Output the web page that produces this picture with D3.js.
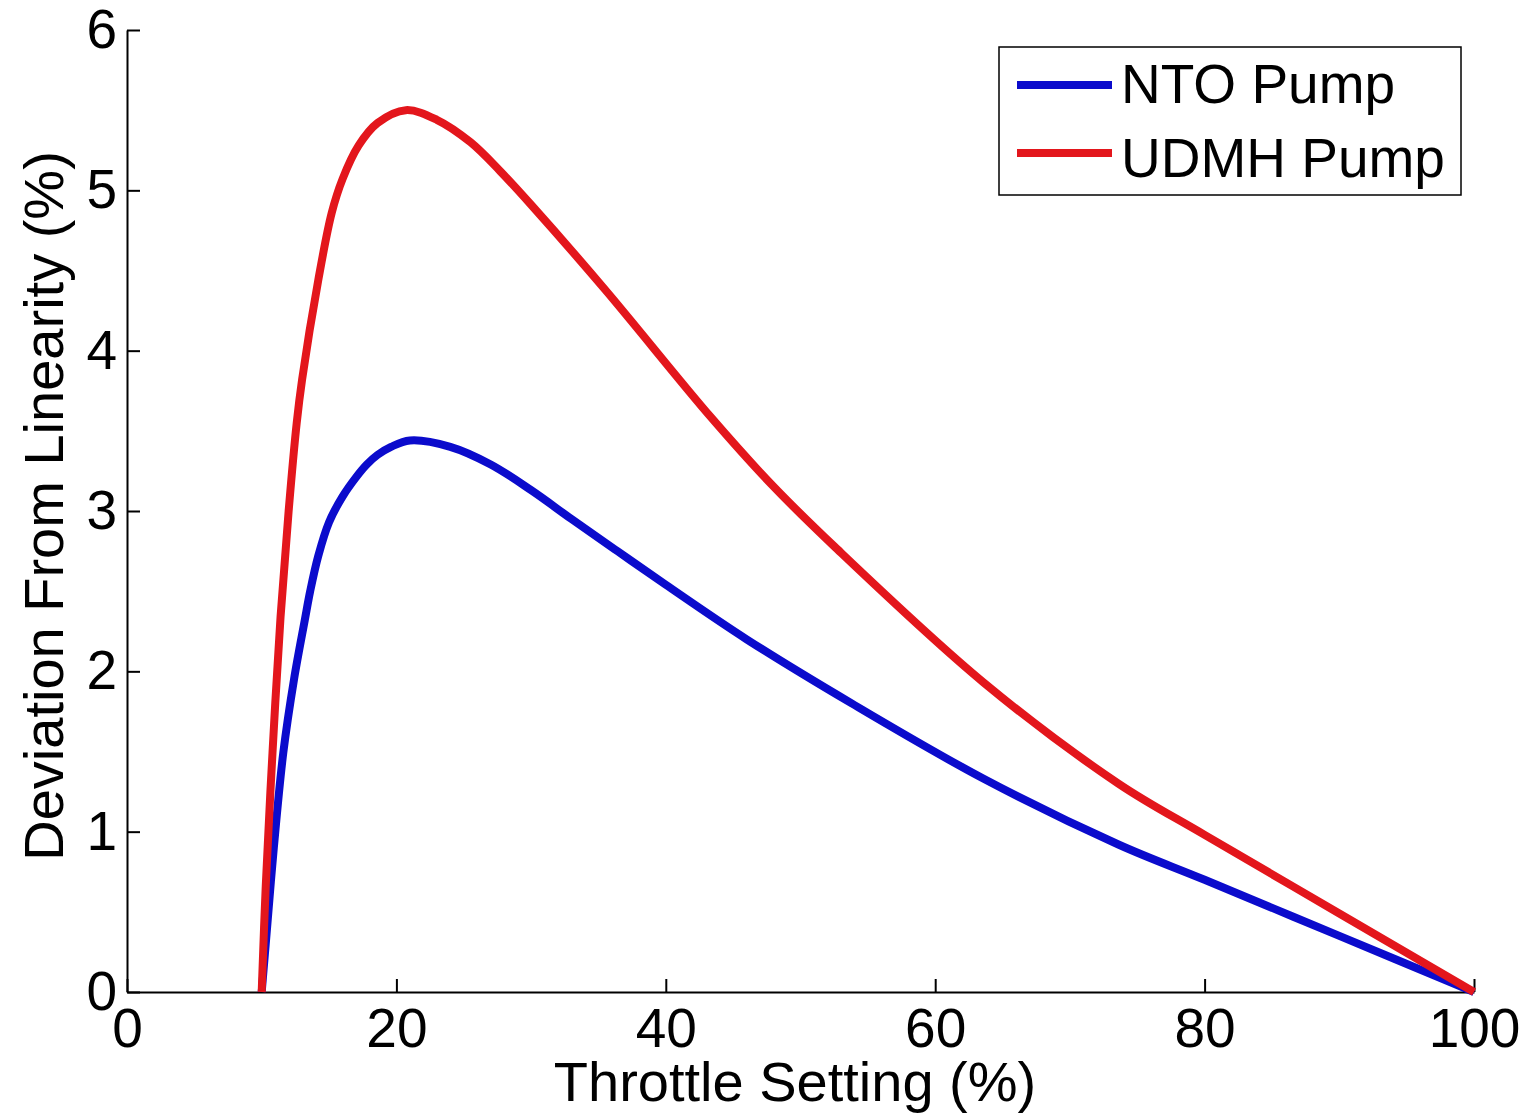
<!DOCTYPE html>
<html>
<head>
<meta charset="utf-8">
<script src="https://cdn.jsdelivr.net/npm/d3@7"></script>
<style>
  body { margin: 0; background: #fff; }
  text { font-family: 'Liberation Sans', Arial, sans-serif; fill: #000; }
</style>
</head>
<body>
<div id="chart"></div>
<script>
const BLUE = '#0b0bcc';
const RED = '#e3161c';

// values
const ntoX = [10, 10.3, 10.9, 11.6, 12.4, 13.2, 13.6, 14.2, 15, 16, 17, 17.8, 18.6, 19.6, 21, 24, 27, 30, 33, 36.4, 40, 46, 53.8, 63.6, 73.6, 80, 90, 100];
const ntoY = [0, 0.3, 0.9, 1.49, 1.95, 2.32, 2.5, 2.72, 2.93, 3.09, 3.21, 3.29, 3.35, 3.40, 3.44, 3.4, 3.29, 3.13, 2.95, 2.75, 2.54, 2.2, 1.8, 1.33, 0.92, 0.7, 0.35, 0];
const udmhX = [10, 10.3, 10.8, 11.4, 12, 12.6, 13, 14.2, 15.2, 16, 17.2, 18.6, 20.7, 23, 25.5, 27.7, 30, 35.5, 43.3, 47.8, 52.5, 63.6, 73.6, 80, 90, 100];
const udmhY = [0, 0.66, 1.49, 2.34, 3.0, 3.55, 3.82, 4.44, 4.86, 5.07, 5.28, 5.42, 5.5, 5.44, 5.3, 5.12, 4.91, 4.38, 3.59, 3.17, 2.78, 1.93, 1.3, 0.98, 0.49, 0];

const xTicks = [0, 20, 40, 60, 80, 100];
const yTicks = [0, 1, 2, 3, 4, 5, 6];
const seriesNames = ['NTO Pump', 'UDMH Pump'];

const width = 1525;
const height = 1115;
const margin = { left: 127, right: 51, top: 30, bottom: 123 };
const innerW = width - margin.left - margin.right;
const innerH = height - margin.top - margin.bottom;
const tickFont = 55;
const labelFont = 56;

const svg = d3.select('#chart').append('svg')
  .attr('width', width)
  .attr('height', height);

svg.append('rect').attr('width', width).attr('height', height).attr('fill', '#fff');

const g = svg.append('g')
  .attr('transform', `translate(${margin.left}, ${margin.top})`);

const x = d3.scaleLinear().domain([0, 100]).range([0, innerW]);
const y = d3.scaleLinear().domain([0, 6]).range([innerH, 0]);

// axes, ticks point inward like matlab
const xAxis = d3.axisBottom(x)
  .tickValues(xTicks)
  .tickFormat(d3.format('d'))
  .tickSizeInner(-13)
  .tickSizeOuter(0)
  .tickPadding(16);

const yAxis = d3.axisLeft(y)
  .tickValues(yTicks)
  .tickFormat(d3.format('d'))
  .tickSizeInner(-13)
  .tickSizeOuter(0)
  .tickPadding(10);

const gx = g.append('g')
  .attr('transform', `translate(0, ${innerH})`)
  .call(xAxis);

const gy = g.append('g').call(yAxis);

[gx, gy].forEach(ax => {
  ax.selectAll('path, line').attr('stroke', '#000').attr('stroke-width', 2);
  ax.selectAll('text')
    .attr('font-size', tickFont)
    .attr('font-family', "'Liberation Sans', Arial, sans-serif")
    .attr('fill', '#000');
});

// lines
const line = d3.line()
  .x(d => x(d[0]))
  .y(d => y(d[1]))
  .curve(d3.curveCatmullRom.alpha(0.5));

const series = [
  { name: seriesNames[0], color: BLUE, pts: d3.zip(ntoX, ntoY) },
  { name: seriesNames[1], color: RED, pts: d3.zip(udmhX, udmhY) }
];

g.selectAll('.series')
  .data(series)
  .enter()
  .append('path')
  .attr('class', 'series')
  .attr('d', d => line(d.pts))
  .attr('fill', 'none')
  .attr('stroke', d => d.color)
  .attr('stroke-width', 8)
  .attr('stroke-linejoin', 'round');

// axis titles
svg.append('text')
  .attr('x', 795)
  .attr('y', 1101)
  .attr('text-anchor', 'middle')
  .attr('font-size', labelFont)
  .text('Throttle Setting (%)');

svg.append('text')
  .attr('transform', 'translate(63, 506) rotate(-90)')
  .attr('text-anchor', 'middle')
  .attr('font-size', labelFont)
  .text('Deviation From Linearity (%)');

// legend
const legend = svg.append('g').attr('transform', 'translate(999, 47)');

legend.append('rect')
  .attr('width', 462)
  .attr('height', 148)
  .attr('fill', '#fff')
  .attr('stroke', '#000')
  .attr('stroke-width', 1.5);

const item = legend.selectAll('.item')
  .data(series)
  .enter()
  .append('g')
  .attr('class', 'item');

item.append('line')
  .attr('x1', 18)
  .attr('x2', 113)
  .attr('y1', (d, i) => 38 + i * 68)
  .attr('y2', (d, i) => 38 + i * 68)
  .attr('stroke', d => d.color)
  .attr('stroke-width', 8);

item.append('text')
  .attr('x', 122)
  .attr('y', (d, i) => 56 + i * 74)
  .attr('font-size', tickFont)
  .text(d => d.name);
</script>
</body>
</html>
